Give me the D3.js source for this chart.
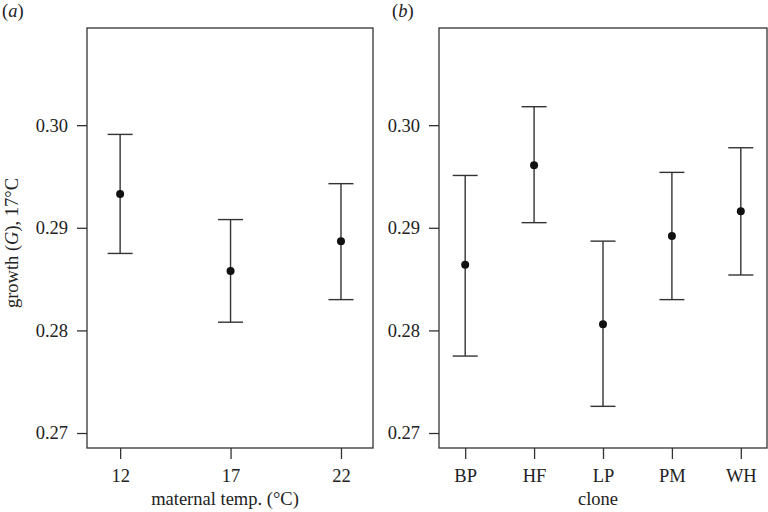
<!DOCTYPE html>
<html>
<head>
<meta charset="utf-8">
<script src="https://cdn.jsdelivr.net/npm/d3@7"></script>
<style>
  body { margin: 0; background: #fff; }
  svg { display: block; }
  text { font-family: "Liberation Serif", "Times New Roman", serif; fill: #222; }
</style>
</head>
<body>
<svg id="chart" width="768" height="512"></svg>
<script>
// Panel (a): maternal temperature
const tempCategories = [12, 17, 22];
const tempMean  = [0.2933, 0.2858, 0.2887];
const tempUpper = [0.2991, 0.2908, 0.2943];
const tempLower = [0.2875, 0.2808, 0.2830];

// Panel (b): clone
const cloneCategories = ["BP", "HF", "LP", "PM", "WH"];
const cloneMean  = [0.2864, 0.2961, 0.2806, 0.2892, 0.2916];
const cloneUpper = [0.2951, 0.3018, 0.2887, 0.2954, 0.2978];
const cloneLower = [0.2775, 0.2905, 0.2726, 0.2830, 0.2854];

const yTicks = [0.27, 0.28, 0.29, 0.30];
const yDomain = [0.26854, 0.30947];

const svg = d3.select("#chart");
const plotTop = 28, plotBottom = 448;
const stroke = "#333";
const fontSize = 18.5;

const y = d3.scaleLinear().domain(yDomain).range([plotBottom, plotTop]);

function panel(opts) {
  const g = svg.append("g");
  const { left, right, x, cats, mean, upper, lower, xTitle, tag, tagX } = opts;

  // frame
  g.append("rect")
    .attr("x", left).attr("y", plotTop)
    .attr("width", right - left).attr("height", plotBottom - plotTop)
    .attr("fill", "none").attr("stroke", stroke).attr("stroke-width", 1.3);

  // y axis
  const yAxis = d3.axisLeft(y).tickValues(yTicks).tickFormat(d3.format(".2f")).tickSize(10).tickPadding(9);
  const ya = g.append("g").attr("transform", `translate(${left},0)`).call(yAxis);
  ya.select(".domain").remove();
  ya.selectAll("line").attr("stroke", stroke).attr("stroke-width", 1.3);
  ya.selectAll("text").attr("font-size", fontSize).attr("font-family", "Liberation Serif").attr("fill", "#222");

  // x axis
  const xAxis = d3.axisBottom(x).tickValues(cats).tickSize(11).tickPadding(10);
  const xa = g.append("g").attr("transform", `translate(0,${plotBottom})`).call(xAxis);
  xa.select(".domain").remove();
  xa.selectAll("line").attr("stroke", stroke).attr("stroke-width", 1.3);
  xa.selectAll("text").attr("font-size", fontSize).attr("font-family", "Liberation Serif").attr("fill", "#222");

  // x title
  g.append("text")
    .attr("x", (left + right) / 2 - 5).attr("y", 505)
    .attr("text-anchor", "middle").attr("font-size", fontSize)
    .text(xTitle);

  // panel tag
  const t = g.append("text").attr("x", tagX).attr("y", 17).attr("font-size", fontSize);
  t.append("tspan").text("(");
  t.append("tspan").attr("font-style", "italic").text(tag);
  t.append("tspan").text(")");

  // error bars
  const cap = 12.5;
  const data = cats.map((c, i) => ({ c, m: mean[i], u: upper[i], l: lower[i] }));
  const eb = g.append("g").selectAll("g").data(data).join("g");
  eb.append("line")
    .attr("x1", d => x(d.c)).attr("x2", d => x(d.c))
    .attr("y1", d => y(d.u)).attr("y2", d => y(d.l))
    .attr("stroke", stroke).attr("stroke-width", 1.4);
  eb.append("line")
    .attr("x1", d => x(d.c) - cap).attr("x2", d => x(d.c) + cap)
    .attr("y1", d => y(d.u)).attr("y2", d => y(d.u))
    .attr("stroke", stroke).attr("stroke-width", 1.4);
  eb.append("line")
    .attr("x1", d => x(d.c) - cap).attr("x2", d => x(d.c) + cap)
    .attr("y1", d => y(d.l)).attr("y2", d => y(d.l))
    .attr("stroke", stroke).attr("stroke-width", 1.4);
  eb.append("circle")
    .attr("cx", d => x(d.c)).attr("cy", d => y(d.m))
    .attr("r", 4).attr("fill", "#111");
}

// Panel a
const leftA = 87, rightA = 373;
const xA = d3.scaleLinear().domain([10.5, 23.45]).range([leftA, rightA]);
panel({ left: leftA, right: rightA, x: xA, cats: tempCategories,
  mean: tempMean, upper: tempUpper, lower: tempLower,
  xTitle: "maternal temp. (°C)", tag: "a", tagX: 2 });

// Panel b
const leftB = 439, rightB = 767;
const xB = d3.scalePoint().domain(cloneCategories).range([leftB, rightB]).padding(0.38);
panel({ left: leftB, right: rightB, x: xB, cats: cloneCategories,
  mean: cloneMean, upper: cloneUpper, lower: cloneLower,
  xTitle: "clone", tag: "b", tagX: 392 });

// y axis title (shared, left)
const yt = svg.append("text")
  .attr("transform", "translate(18,243) rotate(-90)")
  .attr("text-anchor", "middle").attr("font-size", fontSize);
yt.append("tspan").text("growth (");
yt.append("tspan").attr("font-style", "italic").text("G");
yt.append("tspan").text("), 17°C");
</script>
</body>
</html>
